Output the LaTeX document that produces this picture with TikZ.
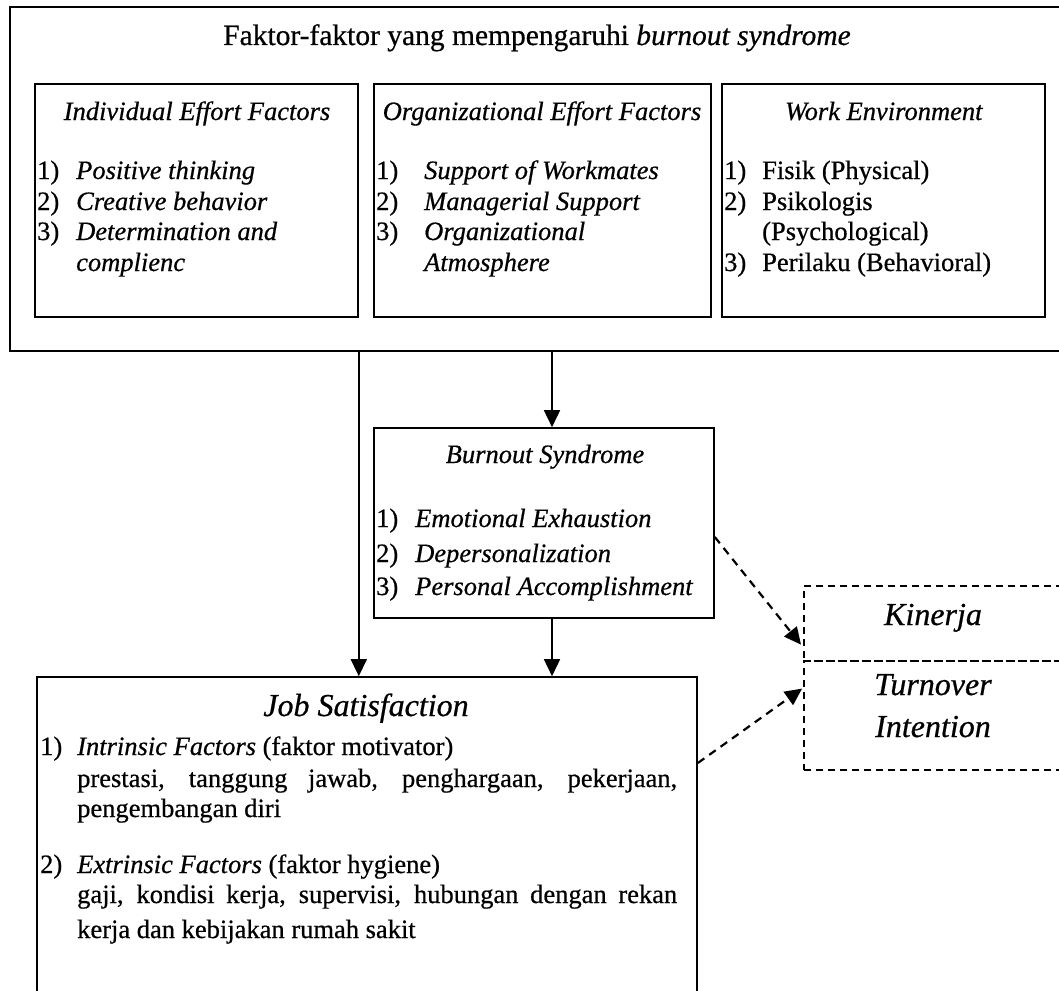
\documentclass[tikz,border=0pt]{standalone}
\usepackage{fontspec}
\setmainfont{Liberation Serif}[UprightFeatures={FakeBold=0.6}, ItalicFeatures={FakeBold=0.6}]
\usetikzlibrary{arrows.meta}
\newcommand\fsBody{\fontsize{26.5}{30}\selectfont}
\newcommand\fsTitle{\fontsize{29.5}{33}\selectfont}
\newcommand\fsBig{\fontsize{32}{36}\selectfont}
\tikzset{
  box/.style={draw, line width=1.6pt, inner sep=0pt},
  dbox/.style={draw, line width=2.2pt, dash pattern=on 7pt off 5pt, inner sep=0pt},
  txt/.style={anchor=base west, inner sep=0pt, font=\fsBody},
  ctxt/.style={anchor=base, inner sep=0pt, font=\fsBody},
  big/.style={anchor=base, inner sep=0pt, font=\fsBig\itshape},
  arr/.style={line width=1.6pt, -{Triangle[width=16pt,length=17pt]}},
  darr/.style={line width=2.2pt, dash pattern=on 8pt off 6pt, -{Triangle[width=16pt,length=17pt]}}
}
\begin{document}
\begin{tikzpicture}[x=1pt,y=-1pt]
\useasboundingbox (0,0) rectangle (1059,990);
% boxes
\node[box, line width=2pt, minimum width=1058pt, minimum height=344pt] (outer) at (539,179) {};
\node[box, minimum width=323pt, minimum height=233pt] (b1) at (196.5,200.5) {};
\node[box, minimum width=337pt, minimum height=233pt] (b2) at (542.5,200.5) {};
\node[box, minimum width=323pt, minimum height=233pt] (b3) at (883.5,200.5) {};
\node[box, minimum width=340pt, minimum height=190pt] (burn) at (544,523) {};
\node[box, minimum width=660pt, minimum height=333pt] (job) at (367,843.5) {};
\node[dbox, minimum width=266pt, minimum height=75pt] (kin) at (937,623.5) {};
\node[dbox, minimum width=266pt, minimum height=109pt] (turn) at (937,715.5) {};

% title
\node[ctxt, font=\fsTitle] (title) at (537,45) {Faktor-faktor yang mempengaruhi \textit{burnout syndrome}};

% box 1
\node[ctxt] (h1) at (197,120) {\textit{Individual Effort Factors}};
\node[txt] (n11) at (37,179) {1)};
\node[txt] (t11) at (76,179) {\textit{Positive thinking}};
\node[txt] (n12) at (37,210) {2)};
\node[txt] (t12) at (76,210) {\textit{Creative behavior}};
\node[txt] (n13) at (37,240) {3)};
\node[txt] (t13) at (76,240) {\textit{Determination and}};
\node[txt] (t14) at (76,271) {\textit{complienc}};

% box 2
\node[ctxt] (h2) at (542,120) {\textit{Organizational Effort Factors}};
\node[txt] (n21) at (376,179) {1)};
\node[txt] (t21) at (424,179) {\textit{Support of Workmates}};
\node[txt] (n22) at (376,210) {2)};
\node[txt] (t22) at (424,210) {\textit{Managerial Support}};
\node[txt] (n23) at (376,240) {3)};
\node[txt] (t23) at (424,240) {\textit{Organizational}};
\node[txt] (t24) at (424,271) {\textit{Atmosphere}};

% box 3
\node[ctxt] (h3) at (884,120) {\textit{Work Environment}};
\node[txt] (n31) at (724,179) {1)};
\node[txt] (t31) at (762,179) {Fisik (Physical)};
\node[txt] (n32) at (724,210) {2)};
\node[txt] (t32) at (762,210) {Psikologis};
\node[txt] (t33) at (762,240) {(Psychological)};
\node[txt] (n33) at (724,271) {3)};
\node[txt] (t34) at (762,271) {Perilaku (Behavioral)};

% burnout
\node[ctxt] (hb) at (545,463) {\textit{Burnout Syndrome}};
\node[txt] (nb1) at (376,527) {1)};
\node[txt] (tb1) at (415,527) {\textit{Emotional Exhaustion}};
\node[txt] (nb2) at (376,562) {2)};
\node[txt] (tb2) at (415,562) {\textit{Depersonalization}};
\node[txt] (nb3) at (376,595) {3)};
\node[txt] (tb3) at (415,595) {\textit{Personal Accomplishment}};

% job satisfaction
\node[big] (hj) at (366,716) {Job Satisfaction};
\node[txt] (nj1) at (40,755) {1)};
\node[txt] (tj1) at (77,755) {\textit{Intrinsic Factors} (faktor motivator)};
\node[txt] (tj2) at (77,787) {\makebox[600pt][s]{prestasi, tanggung jawab, penghargaan, pekerjaan,}};
\node[txt] (tj3) at (77,817) {pengembangan diri};
\node[txt] (nj2) at (40,873) {2)};
\node[txt] (tj4) at (77,873) {\textit{Extrinsic Factors} (faktor hygiene)};
\node[txt] (tj5) at (77,903) {\makebox[600pt][s]{gaji, kondisi kerja, supervisi, hubungan dengan rekan}};
\node[txt] (tj6) at (77,938) {kerja dan kebijakan rumah sakit};

% kinerja / turnover
\node[big] (tk) at (933,625) {Kinerja};
\node[big] (tt1) at (933,695) {Turnover};
\node[big] (tt2) at (933,737) {Intention};

% connectors
\draw[arr] (b1.east |- outer.south) -- (b1.east |- job.north);
\draw[arr] ([xshift=8pt]burn.north |- outer.south) -- ([xshift=8pt]burn.north);
\draw[arr] ([xshift=8pt]burn.south) -- ([xshift=8pt]burn.south |- job.north);
\draw[darr, shorten >=3pt] ([yshift=-14pt]burn.east) -- (kin.west |- 0,647);
\draw[darr, shorten >=1pt] (job.east |- 0,763) -- (turn.west |- 0,688);
\end{tikzpicture}
\end{document}
